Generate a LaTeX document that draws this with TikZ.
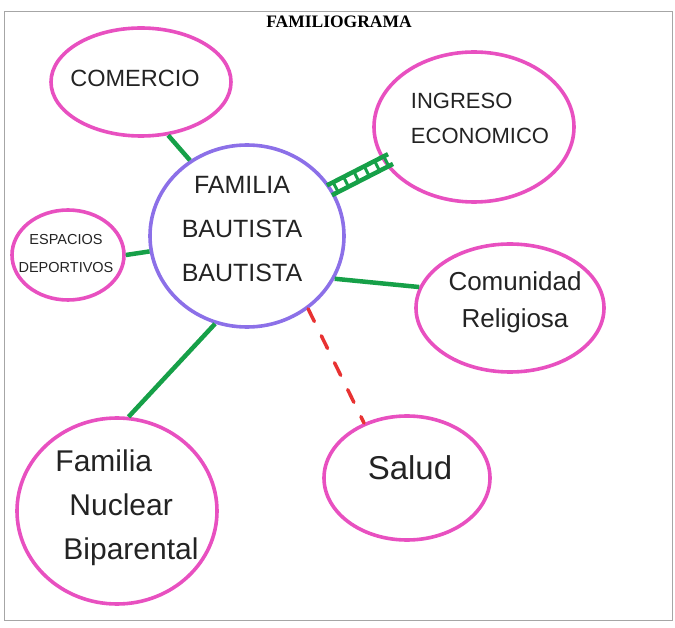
\documentclass[tikz,border=0pt]{standalone}
\usepackage{fontspec}
\setmainfont{Liberation Sans}
\newfontfamily\titlefont{Liberation Serif}
\usetikzlibrary{shapes.geometric,calc}
\definecolor{pinkm}{RGB}{232,80,192}
\definecolor{purp}{RGB}{140,112,232}
\definecolor{grn}{RGB}{22,160,72}
\definecolor{redd}{RGB}{232,50,50}
\definecolor{ink}{RGB}{35,35,35}
\begin{document}
\begin{tikzpicture}[x=1pt,y=-1pt,
  bubble/.style={ellipse,draw=pinkm,line width=3.6pt,inner sep=0pt},
  center/.style={ellipse,draw=purp,line width=3.6pt,inner sep=0pt},
  hand/.style={text=ink,align=center,inner sep=0pt},
  link/.style={draw=grn,line width=4.5pt},
  weak/.style={draw=redd,line width=3.5pt,dash pattern=on 14pt off 16pt,line cap=round}]
\useasboundingbox (0,0) rectangle (675,628);
\draw[gray!70,line width=1pt] (4,12) rectangle (672,620);
\node[font=\titlefont\bfseries\fontsize{17.5}{20}\selectfont] (title) at (339,22) {FAMILIOGRAMA};
% ellipses
\node[center,minimum width=194pt,minimum height=182pt] (fam) at (247,236) {};
\node[bubble,minimum width=180pt,minimum height=108pt] (com) at (141,82) {};
\node[bubble,minimum width=200pt,minimum height=150pt] (ing) at (474,127) {};
\node[bubble,minimum width=112pt,minimum height=90pt] (esp) at (68,255) {};
\node[bubble,minimum width=188pt,minimum height=128pt] (rel) at (510,308) {};
\node[bubble,minimum width=166pt,minimum height=124pt] (sal) at (407,478) {};
\node[bubble,minimum width=200pt,minimum height=186pt] (nuc) at (117,511) {};
% texts
\node[hand,font=\fontsize{25}{44}\selectfont] (tfam) at (242,229) {FAMILIA\\BAUTISTA\\BAUTISTA};
\node[hand,font=\fontsize{23.5}{28}\selectfont] (tcom) at (135,78) {COMERCIO};
\node[hand,font=\fontsize{22}{35}\selectfont,align=left] (ting) at (480,118) {INGRESO\\ECONOMICO};
\node[hand,font=\fontsize{14.5}{28}\selectfont] (tesp) at (66,254) {ESPACIOS\\DEPORTIVOS};
\node[hand,font=\fontsize{26}{37}\selectfont] (trel) at (515,302) {Comunidad\\Religiosa};
\node[hand,font=\fontsize{33}{38}\selectfont] (tsal) at (410,468) {Salud};
\node[hand,font=\fontsize{30}{44}\selectfont,align=left] (tnuc) at (127,508) {Familia\\\hspace*{14pt}Nuclear\\\hspace*{8pt}Biparental};
% connectors
\draw[link] (fam.127) -- (com.-63);
\draw[link] (fam.189) -- (esp.0);
\draw[link] (fam.-26) -- (rel.167);
\draw[link] (fam.-110) -- (nuc.83);
\draw[weak] (fam.-50) -- (sal.128);
% strong connector
\coordinate (sa) at ($(fam.center)!0.97!(fam.29)$);
\coordinate (sb) at ($(ing.center)!0.92!(ing.201)$);
\draw[grn,line width=4.5pt] ($(sa)!5.5pt!90:(sb)$) -- ($(sb)!5.5pt!-90:(sa)$);
\draw[grn,line width=4.5pt] ($(sa)!5.5pt!-90:(sb)$) -- ($(sb)!5.5pt!90:(sa)$);
\foreach \t in {0.1,0.27,0.44,0.61,0.78,0.93}{
  \draw[grn,line width=3pt] ($($(sa)!\t!(sb)$)!6pt!90:(sb)$) -- ($($(sa)!\t!(sb)$)!6pt!-90:(sb)$);
}
\end{tikzpicture}
\end{document}
